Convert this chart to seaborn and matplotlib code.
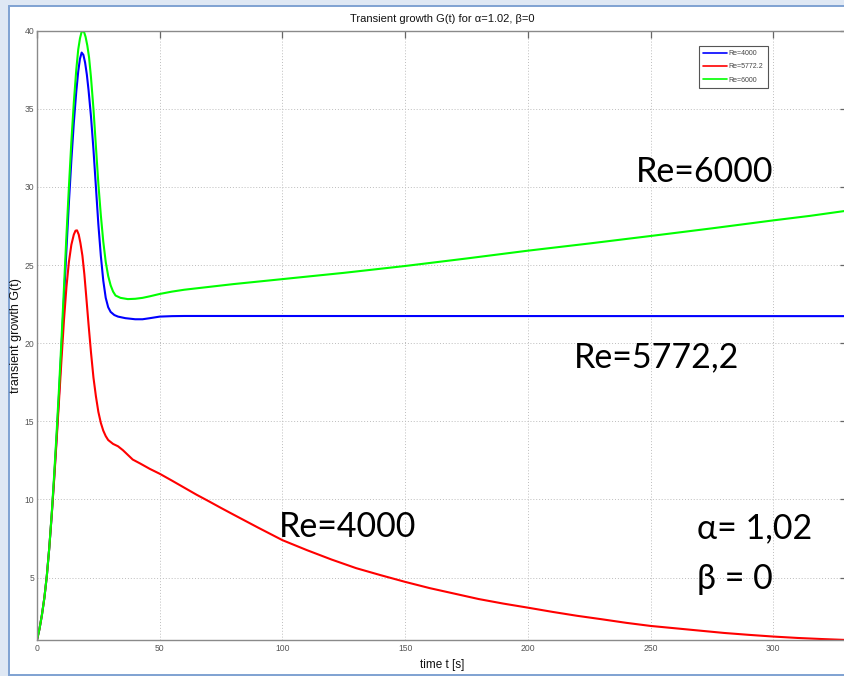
import matplotlib
matplotlib.use("Agg")
import matplotlib.pyplot as plt
import numpy as np
import pandas as pd
import seaborn as sns
from matplotlib.patches import Rectangle
from matplotlib.font_manager import fontManager

# ---- transient growth curves G(t), alpha = 1.02, beta = 0 ----
series_names = ["Re=4000", "Re=5772.2", "Re=6000"]
series_colors = ["#0000ff", "#ff0000", "#00ff00"]

t_blue = [0, 1, 2, 3, 4, 5, 6, 7, 8, 9, 10, 11, 12, 13, 14, 15, 16, 16.8, 17.5,
          18.2, 18.9, 19.6, 20.3, 21, 22, 23, 24, 25, 26, 27, 28, 29, 30, 31.5,
          33, 36, 40, 43, 46, 50, 55, 60, 330]
g_blue = [1.0, 1.7, 2.6, 3.7, 5.1, 6.9, 9.0, 11.4, 14.0, 16.8, 19.8, 22.9, 26.0,
          29.0, 31.7, 34.1, 36.1, 37.4, 38.2,
          38.6, 38.45, 37.95, 37.2, 36.2, 34.5, 32.4, 30.0, 27.6, 25.6, 24.0,
          22.9, 22.3, 22.0, 21.8, 21.7, 21.6, 21.53, 21.53, 21.6, 21.7, 21.73,
          21.74, 21.73]

t_red = [0, 1, 2, 3, 4, 5, 6, 7, 8, 9, 10, 11, 12, 13, 14, 15, 15.7, 16.3, 17,
         17.7, 18.5, 19.3, 20, 21, 22, 23, 24, 25, 26, 27, 28, 29, 31, 33, 35, 37,
         39, 42, 46, 50, 55, 60, 65, 70, 75, 80, 90, 100, 110, 120, 130, 140,
         150, 160, 170, 180, 190, 200, 210, 220, 230, 240, 250, 260, 270, 280,
         290, 300, 310, 320, 330]
g_red = [1.0, 1.7, 2.6, 3.7, 5.1, 6.9, 9.0, 11.3, 13.8, 16.4, 19.0, 21.5, 23.6,
         25.2, 26.3, 26.95, 27.2, 27.22, 26.95, 26.4, 25.6, 24.4, 23.1, 21.2,
         19.4, 17.8, 16.6, 15.6, 14.9, 14.4, 14.05, 13.8, 13.55, 13.4, 13.15,
         12.85, 12.55, 12.3, 11.95, 11.64, 11.2, 10.75, 10.3, 9.88, 9.45, 9.03,
         8.2, 7.39, 6.75, 6.15, 5.6, 5.15, 4.72, 4.32, 3.97, 3.62, 3.33, 3.07,
         2.8, 2.55, 2.33, 2.1, 1.9, 1.75, 1.6, 1.45, 1.33, 1.22, 1.13, 1.06, 1.0]

t_green = [0, 1, 2, 3, 4, 5, 6, 7, 8, 9, 10, 11, 12, 13, 14, 15, 16, 16.8, 17.5,
           18.1, 18.6, 19.2, 19.8, 20.5, 21.2, 22, 23, 24, 25, 26, 27, 28, 29,
           30, 31, 32, 34, 37, 40, 43, 46, 50, 55, 60, 70, 80, 90, 100, 125, 150,
           175, 200, 225, 250, 275, 300, 315, 330]
g_green = [1.0, 1.7, 2.6, 3.7, 5.1, 6.9, 9.1, 11.6, 14.3, 17.2, 20.3, 23.6, 26.9,
           30.0, 32.9, 35.4, 37.5, 38.8, 39.5, 39.88, 40.0, 39.9, 39.6, 39.05,
           38.3, 37.0, 35.0, 32.6, 30.2, 28.2, 26.5, 25.2, 24.3, 23.7, 23.3,
           23.05, 22.9, 22.82, 22.84, 22.9, 23.0, 23.15, 23.3, 23.42, 23.6, 23.78,
           23.94, 24.1, 24.5, 24.94, 25.42, 25.92, 26.38, 26.86, 27.35, 27.86,
           28.15, 28.48]

x_ticks = [0, 50, 100, 150, 200, 250, 300]
y_ticks = [5, 10, 15, 20, 25, 30, 35, 40]

frames = [
    pd.DataFrame({"t": t_blue, "G": g_blue, "case": series_names[0]}),
    pd.DataFrame({"t": t_red, "G": g_red, "case": series_names[1]}),
    pd.DataFrame({"t": t_green, "G": g_green, "case": series_names[2]}),
]
df = pd.concat(frames, ignore_index=True)

sns.set_theme(style="white")
plt.rcParams["font.family"] = ["Liberation Sans", "DejaVu Sans"]

installed = {f.name for f in fontManager.ttflist}
narrow = "Liberation Sans Narrow" if "Liberation Sans Narrow" in installed else "Liberation Sans"
big_font = "Lato" if "Lato" in installed else "DejaVu Sans"

W, H = 845, 676
fig = plt.figure(figsize=(W / 100, H / 100), dpi=100)
fig.patch.set_facecolor("#dfe8f4")
fig.add_artist(Rectangle((9 / W, 1 - 675 / H), (860 - 9) / W, (675 - 6) / H,
                         transform=fig.transFigure, facecolor="white",
                         edgecolor="#7fa2d2", linewidth=1.4, zorder=-5))

ax = fig.add_axes([37 / W, 1 - 640 / H, (847 - 37) / W, (640 - 30.7) / H])
ax.set_facecolor("white")

sns.lineplot(data=df, x="t", y="G", hue="case", hue_order=series_names,
             palette=series_colors, sort=False, estimator=None,
             linewidth=1.5, ax=ax)

ax.set_xlim(0, 330)
ax.set_ylim(1, 40)
ax.set_xticks(x_ticks)
ax.set_yticks(y_ticks)
ax.set_xticklabels([str(v) for v in x_ticks], fontfamily=narrow, fontsize=6.2, color="#555555")
ax.set_yticklabels([str(v) for v in y_ticks], fontfamily=narrow, fontsize=6.2, color="#555555")
ax.tick_params(direction="in", length=5, width=0.9, color="#666666",
               top=True, right=True, pad=3)
ax.tick_params(axis="y", pad=2)
ax.grid(True, color="#bdbdbd", linestyle=(0, (1, 2)), linewidth=0.7)
for sp in ax.spines.values():
    sp.set_color("#8a8a8a")
    sp.set_linewidth(1.0)

ax.set_title("Transient growth G(t) for α=1.02, β=0", fontsize=8, pad=6, color="#111111")
ax.set_xlabel("time t [s]", fontsize=8.5, labelpad=4, color="#111111")
ax.set_ylabel("transient growth G(t)", fontsize=9, color="#111111")
ax.yaxis.set_label_coords(-15 / 810, 0.5)

handles, labels = ax.get_legend_handles_labels()
leg = ax.legend(handles, labels, loc="upper left", bbox_to_anchor=(0.817, 0.975),
                fontsize=5, frameon=True, fancybox=False, framealpha=1,
                edgecolor="#555555", handlelength=3.4, handletextpad=0.3,
                borderpad=0.6, labelspacing=0.9, borderaxespad=0)
leg.get_frame().set_linewidth(0.8)
for line in leg.get_lines():
    line.set_linewidth(1.2)
for txt in leg.get_texts():
    txt.set_color("#444444")

# large annotations
notes = [("Re=6000", 636, 172), ("Re=5772,2", 574, 357), ("Re=4000", 279, 527),
         ("α= 1,02", 697, 528), ("β = 0", 697, 579)]
for s, px, py in notes:
    fig.text(px / W, 1 - py / H, s, fontsize=24.5, fontfamily=big_font,
             ha="left", va="center", color="black")

fig.savefig("out.png", dpi=100, facecolor=fig.get_facecolor())
